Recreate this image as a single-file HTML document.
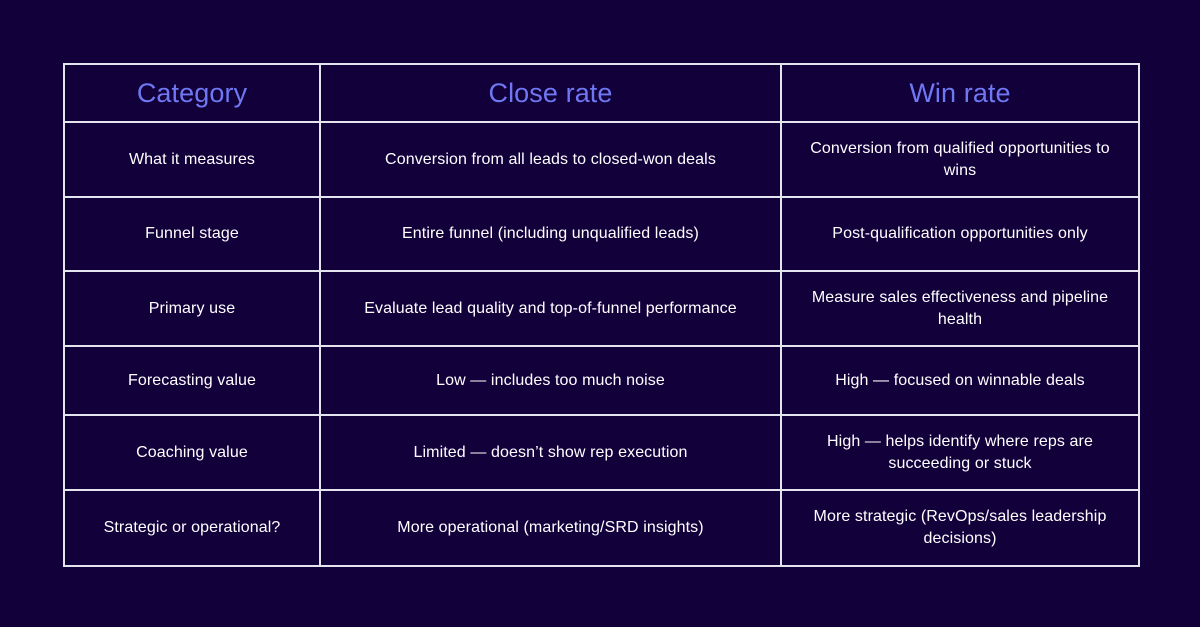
<!DOCTYPE html>
<html><head><meta charset="utf-8"><style>
body{margin:0;width:1200px;height:627px;background:#12003b;font-family:"Liberation Sans",sans-serif;overflow:hidden}
table{position:absolute;left:63px;top:63px;border-collapse:collapse;table-layout:fixed}
td,th{border:2px solid #e4e4ee;text-align:center;vertical-align:middle;color:#fff;font-size:16px;line-height:22px;padding:0 22px;font-weight:normal;letter-spacing:0.1px}
th{color:#6f78f2;font-size:27px;height:56px}
td:nth-child(3){padding:0 26px}
</style></head><body>
<table>
<colgroup><col style="width:256px"><col style="width:461px"><col style="width:358px"></colgroup>
<tr><th>Category</th><th>Close rate</th><th>Win rate</th></tr>
<tr style="height:75px"><td>What it measures</td><td>Conversion from all leads to closed-won deals</td><td>Conversion from qualified opportunities to wins</td></tr>
<tr style="height:74px"><td>Funnel stage</td><td>Entire funnel (including unqualified leads)</td><td>Post-qualification opportunities only</td></tr>
<tr style="height:75px"><td>Primary use</td><td>Evaluate lead quality and top-of-funnel performance</td><td>Measure sales effectiveness and pipeline health</td></tr>
<tr style="height:69px"><td>Forecasting value</td><td>Low — includes too much noise</td><td>High — focused on winnable deals</td></tr>
<tr style="height:75px"><td>Coaching value</td><td>Limited — doesn’t show rep execution</td><td>High — helps identify where reps are succeeding or stuck</td></tr>
<tr style="height:76px"><td>Strategic or operational?</td><td>More operational (marketing/SRD insights)</td><td>More strategic (RevOps/sales leadership decisions)</td></tr>
</table>
</body></html>
